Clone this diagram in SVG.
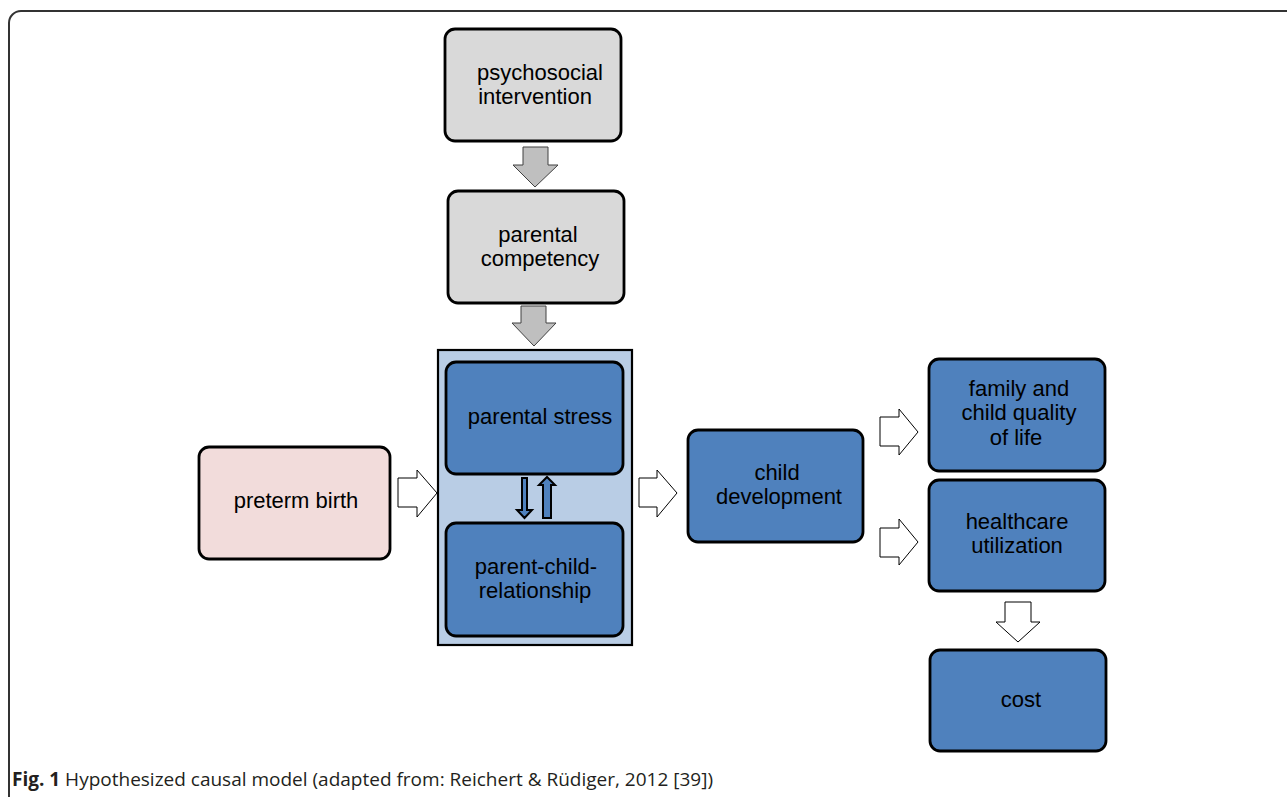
<svg xmlns="http://www.w3.org/2000/svg" width="1287" height="797" viewBox="0 0 1287 797">
<style>
.box{stroke:#000;stroke-width:2.8}
.gray{fill:#d9d9d9}
.blue{fill:#4f81bd}
.pink{fill:#f2dcdb}
.lbl{font-family:"Liberation Sans",Arial,sans-serif;font-size:22px;fill:#000;text-anchor:middle}
.harrow{fill:#fff;stroke:#000;stroke-width:1}
.garrow{fill:#bfbfbf;stroke:#404040;stroke-width:1}
.sarrow{fill:#4f81bd;stroke:#000;stroke-width:2}
.cap{font-family:"Open Sans","Liberation Sans",sans-serif;font-size:19px;fill:#231f20}
</style>
<rect width="1287" height="797" fill="#fff"/>
<path d="M9,797 V23 A12,12 0 0 1 21,11 H1287" fill="none" stroke="#333" stroke-width="2"/>
<g id="container">
<rect x="438" y="350" width="194" height="295" fill="#b9cde5" stroke="#000" stroke-width="2.2"/>
</g>
<g id="psychosocial-intervention">
<rect class="box gray" x="445" y="29" width="176" height="112" rx="10"/>
<text class="lbl" x="540" y="80">psychosocial</text>
<text class="lbl" x="535" y="104">intervention</text>
</g>
<g id="parental-competency">
<rect class="box gray" x="448" y="191" width="176" height="112" rx="10"/>
<text class="lbl" x="538" y="242">parental</text>
<text class="lbl" x="540" y="266">competency</text>
</g>
<g id="parental-stress">
<rect class="box blue" x="446" y="362" width="177" height="112" rx="10"/>
<text class="lbl" x="540" y="424">parental stress</text>
</g>
<g id="parent-child-relationship">
<rect class="box blue" x="446" y="523" width="177" height="113" rx="10"/>
<text class="lbl" x="536" y="574">parent-child-</text>
<text class="lbl" x="535" y="598">relationship</text>
</g>
<g id="preterm-birth">
<rect class="box pink" x="199" y="447" width="191" height="112" rx="10"/>
<text class="lbl" x="296" y="508">preterm birth</text>
</g>
<g id="child-development">
<rect class="box blue" x="688" y="430" width="175" height="112" rx="10"/>
<text class="lbl" x="777" y="480">child</text>
<text class="lbl" x="779" y="504">development</text>
</g>
<g id="quality-of-life">
<rect class="box blue" x="929" y="359" width="176" height="112" rx="10"/>
<text class="lbl" x="1019" y="396">family and</text>
<text class="lbl" x="1019" y="420">child quality</text>
<text class="lbl" x="1016" y="445">of life</text>
</g>
<g id="healthcare-utilization">
<rect class="box blue" x="929" y="480" width="176" height="111" rx="10"/>
<text class="lbl" x="1017" y="529">healthcare</text>
<text class="lbl" x="1017" y="553">utilization</text>
</g>
<g id="cost">
<rect class="box blue" x="930" y="650" width="176" height="101" rx="10"/>
<text class="lbl" x="1021" y="707">cost</text>
</g>
<g id="connectors">
<polygon class="garrow" points="523,147 548,147 548,165 558,165 535,187 513,165 523,165"/>
<polygon class="garrow" points="521,306 546,306 546,323 556,323 534,346 512,323 521,323"/>
<polygon class="sarrow" points="522,478 527,478 527,510 532,510 524.5,518 517,510 522,510"/>
<polygon class="sarrow" points="543,518 551,518 551,485 555,485 547,477 539,485 543,485"/>
<polygon class="harrow" points="398,478 417,478 417,470 437,493 417,517 417,507 398,507"/>
<polygon class="harrow" points="639,478 657,478 657,470 677,493 657,517 657,507 639,507"/>
<polygon class="harrow" points="880,417 899,417 899,409 918,432 899,455 899,446 880,446"/>
<polygon class="harrow" points="880,528 899,528 899,519 918,542 899,565 899,557 880,557"/>
<polygon class="harrow" points="1005,602 1031,602 1031,622 1040,622 1018,642 996,622 1005,622"/>
</g>
<text class="cap" x="12" y="786"><tspan font-weight="bold">Fig. 1</tspan> Hypothesized causal model (adapted from: Reichert &amp; Rüdiger, 2012 [39])</text>
</svg>
